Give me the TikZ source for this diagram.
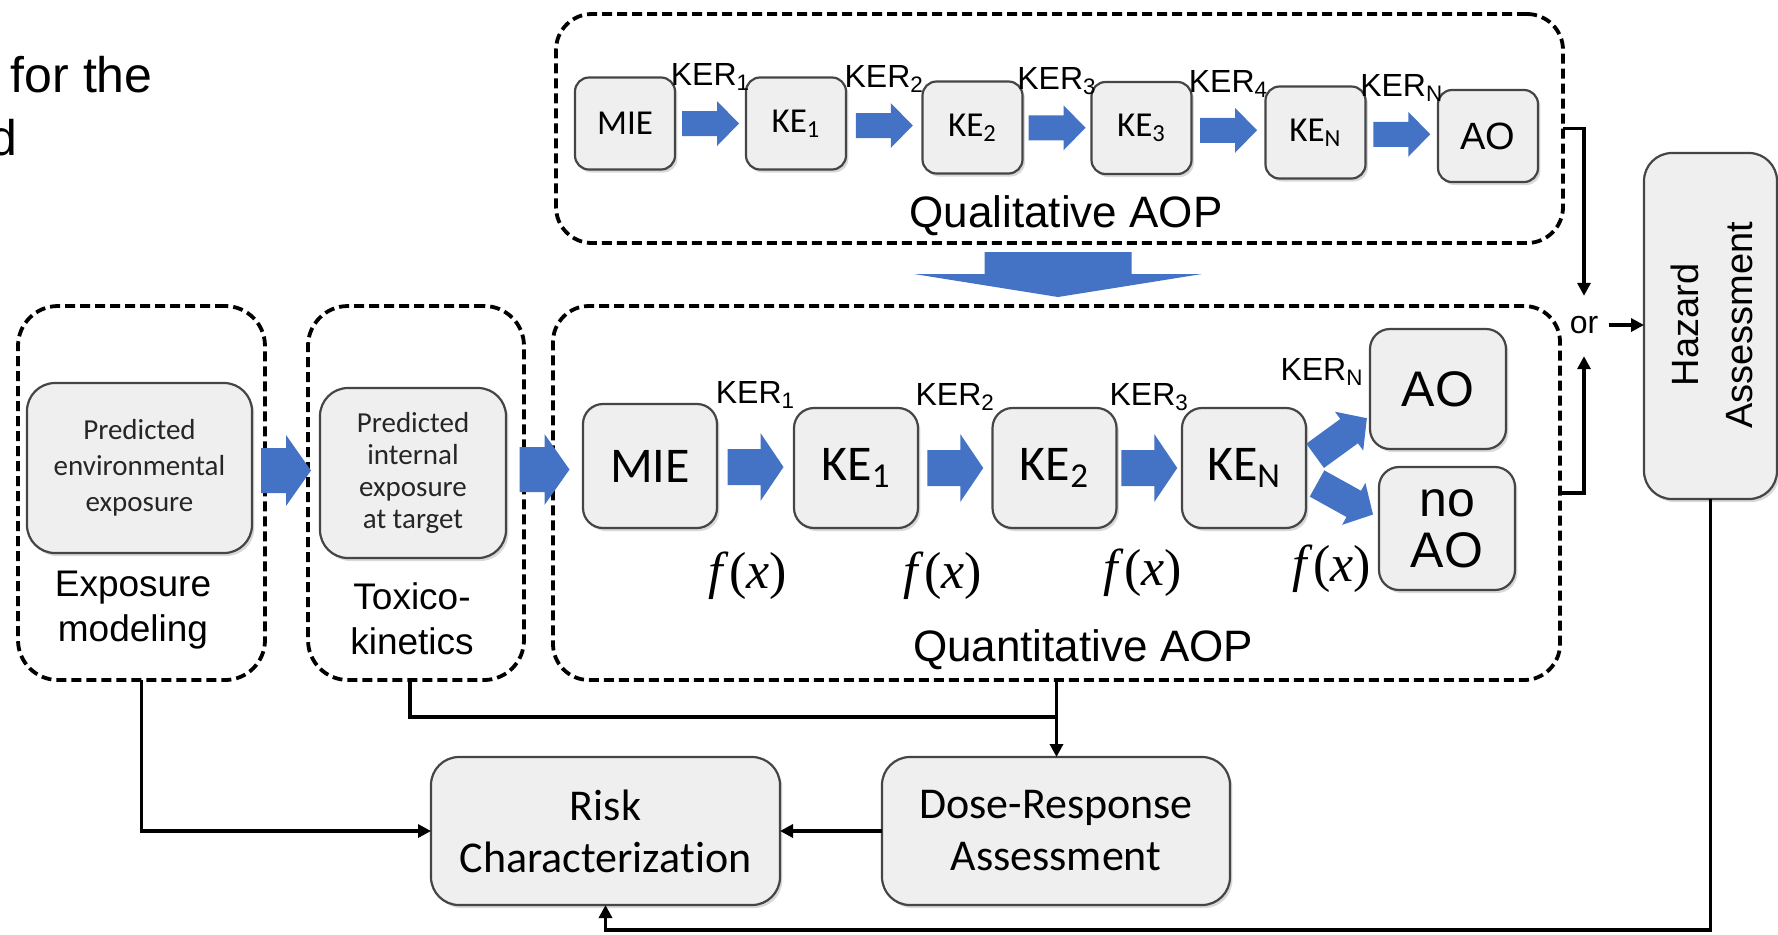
\documentclass[tikz,border=0pt]{standalone}
\usepackage{fontspec}
\setmainfont{Liberation Sans}
\newfontfamily\calfont[Ligatures=NoCommon]{Carlito}
\newfontfamily\serfont{Liberation Serif}
\usetikzlibrary{shadows,arrows.meta,calc}
\definecolor{boxfill}{HTML}{F0EFEF}
\definecolor{boxline}{HTML}{454545}
\definecolor{aopblue}{HTML}{4472C4}
\tikzset{
  pics/barrow/.style n args={4}{code={
    \fill[aopblue] ({-#1/2},{-#2/2}) -- ({#1/2-#4},{-#2/2}) -- ({#1/2-#4},{-#3/2}) -- ({#1/2},0) -- ({#1/2-#4},{#3/2}) -- ({#1/2-#4},{#2/2}) -- ({-#1/2},{#2/2}) -- cycle;
  }},
  ebox/.style={draw=boxline, line width=1.1pt, fill=boxfill, inner sep=0pt, outer sep=0pt, align=center,
     drop shadow={shadow xshift=1.2pt, shadow yshift=-1.5pt, opacity=0.3}},
  qbox/.style={ebox, rounded corners=7pt, minimum width=50pt, minimum height=46pt, font=\fontsize{17.5}{20}\selectfont\calfont},
  nbox/.style={ebox, rounded corners=10pt, font=\fontsize{25}{28}\selectfont\calfont},
  bbox/.style={ebox, rounded corners=14pt},
  dbox/.style={draw=black, line width=1.9pt, dash pattern=on 5pt off 2.5pt, rounded corners=18pt, inner sep=0pt, outer sep=0pt},
  conn/.style={line width=1.7pt, -{Triangle[length=6.5pt,width=6.5pt]}},
  plain/.style={line width=1.7pt},
  kerlab/.style={font=\fontsize{16}{18}\selectfont, inner sep=0pt, anchor=base},
  fxlab/.style={font=\fontsize{26}{28}\selectfont\serfont, inner sep=0pt, anchor=base},
  biglab/.style={font=\fontsize{22}{24}\selectfont, inner sep=0pt, anchor=base},
}
\begin{document}
\begin{tikzpicture}[x=0.5pt,y=-0.5pt]
\useasboundingbox (0,0) rectangle (1778,934);

% partial caption text at top left
\node[font=\fontsize{25}{29}\selectfont, anchor=base east, inner sep=0pt] (t1) at (153,92) {for the};
\node[font=\fontsize{25}{29}\selectfont, anchor=base east, inner sep=0pt] (t2) at (18,155) {d};

% dashed groups
\node[dbox, minimum width=503.5pt, minimum height=114.5pt] (qual) at (1059.5,128.5) {};
\node[dbox, minimum width=503.5pt, minimum height=187pt] (quant) at (1056.5,493) {};
\node[dbox, minimum width=123.5pt, minimum height=187pt, rounded corners=20pt] (expo) at (141.5,493) {};
\node[dbox, minimum width=108pt, minimum height=187pt, rounded corners=20pt] (tox) at (416,493) {};

% qualitative AOP
\node[qbox] (qmie) at (625,123.5) {MIE};
\node[qbox] (qke1) at (796,123.5) {KE\textsubscript{1}};
\node[qbox] (qke2) at (972.5,127.5) {KE\textsubscript{2}};
\node[qbox] (qke3) at (1141.5,128) {KE\textsubscript{3}};
\node[qbox] (qken) at (1315.5,132.5) {KE\textsubscript{N}};
\node[qbox, font=\fontsize{19}{22}\selectfont] (qao) at (1488,136) {AO};
\foreach \a/\b/\s in {qmie/qke1/1, qke1/qke2/2, qke2/qke3/3, qke3/qken/4, qken/qao/N}{
  \pic at ($(\a.east)!0.5!(\b.west)$) {barrow={57}{25}{45}{22}};
  \node[kerlab] (k\a) at ($(\a.north east)!0.5!(\b.north west)+(0,8)$) {KER\textsubscript{\s}};
}
\node[biglab] (qlab) at (1066,227) {Qualitative AOP};

% big down arrow
\coordinate (bigm) at ($(qual.south)!0.5!(quant.north)$);
\pic[rotate=-90] at (bigm) {barrow={45}{147}{288}{23}};

% exposure and toxicokinetics
\node[bbox, minimum width=112.5pt, minimum height=85pt, font=\fontsize{14.5}{18}\selectfont\calfont, text=black!85] (env) at (139.5,468) {Predicted\\environmental\\exposure};
\node[bbox, minimum width=93pt, minimum height=85pt, font=\fontsize{14.5}{16}\selectfont\calfont, text=black!85] (int) at (413,473) {Predicted\\internal\\exposure\\at target};
\node[font=\fontsize{18.5}{22.5}\selectfont, align=center, inner sep=0pt] (explab) at (133,610) {Exposure\\modeling};
\node[font=\fontsize{18.5}{22.5}\selectfont, align=center, inner sep=0pt] (toxlab) at (412,619) {Toxico-\\kinetics};

% quantitative AOP
\node[nbox, minimum width=67pt, minimum height=62pt] (mie) at (650,466) {MIE};
\node[nbox, minimum width=62pt, minimum height=60pt] (ke1) at (856,468) {KE\textsubscript{1}};
\node[nbox, minimum width=62pt, minimum height=60pt] (ke2) at (1054.5,468) {KE\textsubscript{2}};
\node[nbox, minimum width=62pt, minimum height=60pt] (ken) at (1244,468) {KE\textsubscript{N}};
\node[nbox, minimum width=68pt, minimum height=60pt, font=\fontsize{25}{29}\selectfont] (ao) at (1438,389) {AO};
\node[nbox, minimum width=68pt, minimum height=61.5pt, font=\fontsize{25}{25.5}\selectfont] (noao) at (1447,528.5) {no\\AO};

\pic at ($(env.east)!0.5!(int.west)$) {barrow={50}{45}{71}{25}};
\pic at ($(int.east)!0.5!(mie.west)$) {barrow={50}{45}{71}{25}};
\foreach \a/\b/\s in {mie/ke1/1, ke1/ke2/2, ke2/ken/3}{
  \pic at ($(\a.east)!0.5!(\b.west)$) {barrow={56}{36}{68}{23}};
  \node[kerlab] (k\a) at ($(\a.north east)!0.5!(\b.north west)+(0,-3)$) {KER\textsubscript{\s}};
}
\coordinate (d1) at (1341,437);
\coordinate (d2) at (1345,499);
\pic[rotate=36] at (d1) {barrow={64}{30}{48}{22}};
\pic[rotate=-29] at (d2) {barrow={64}{30}{48}{22}};
\node[kerlab] (kken) at (1322,380) {KER\textsubscript{N}};

\node[fxlab] (f1) at (748,588) {\itshape f\/\upshape(\itshape x\/\upshape)};
\node[fxlab] (f2) at (943,588) {\itshape f\/\upshape(\itshape x\/\upshape)};
\node[fxlab] (f3) at (1143,585) {\itshape f\/\upshape(\itshape x\/\upshape)};
\node[fxlab] (f4) at (1332,581) {\itshape f\/\upshape(\itshape x\/\upshape)};
\node[biglab] (nlab) at (1083,661) {Quantitative AOP};

% assessment boxes
\node[bbox, minimum width=174.5pt, minimum height=74pt, font=\fontsize{22}{26}\selectfont\calfont] (risk) at (605.5,831) {Risk\\Characterization};
\node[bbox, minimum width=174pt, minimum height=74pt, font=\fontsize{22}{26}\selectfont\calfont] (dose) at (1056,831) {Dose-Response\\Assessment};
\node[bbox, minimum width=66.5pt, minimum height=173pt] (haz) at (1710.5,326) {};
\node[rotate=90, font=\fontsize{19}{27}\selectfont, align=center, inner sep=0pt] (hazt) at (1712,325) {Hazard\\Assessment};
\node[font=\fontsize{16}{18}\selectfont, inner sep=0pt] (or) at (1584,325) {or};

% connectors
\draw[conn, shorten >=10pt] (qual.east) -| (or.north);
\draw[conn, shorten >=11pt] (quant.east) -| (or.south);
\draw[conn, shorten <=5pt] (or.east) -- (or.east -| haz.west);
\draw[conn] (expo.south) |- (risk.west);
\draw[plain] ($(tox.south)+(-6,0)$) |- ($(quant.south)+(0,37)$);
\draw[conn] (quant.south) -- (quant.south |- dose.north);
\draw[conn] (dose.west) -- (risk.east);
\draw[conn] (haz.south) -- ++(0,431) -| (risk.south);
\end{tikzpicture}
\end{document}
